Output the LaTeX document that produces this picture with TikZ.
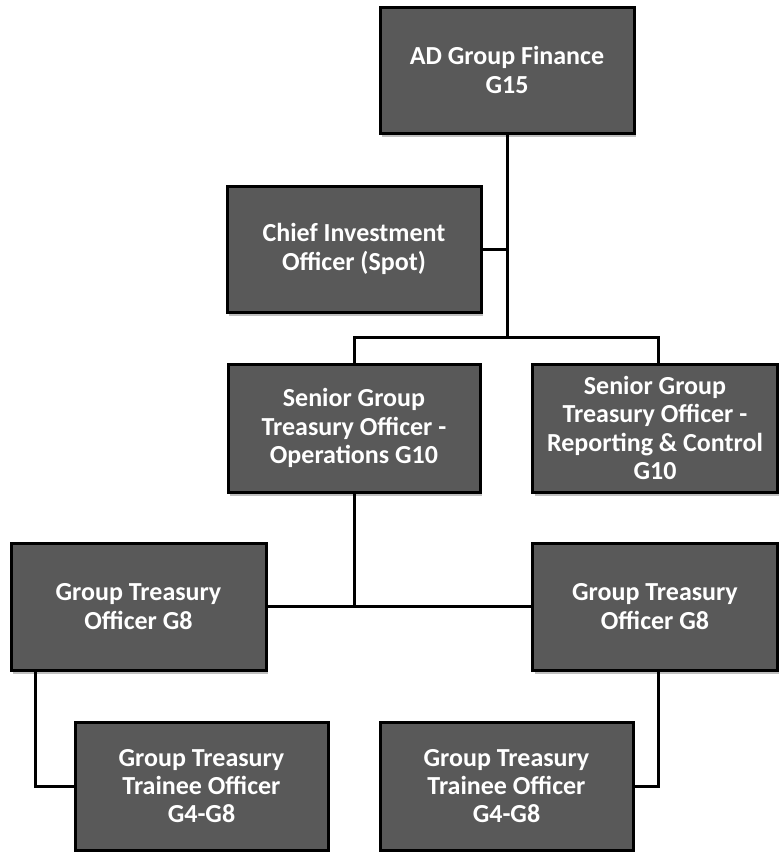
\documentclass[tikz,border=0pt]{standalone}
\usepackage{fontspec}
\setmainfont{Carlito}
\usetikzlibrary{shadows}
\definecolor{boxgray}{HTML}{595959}
\begin{document}
\begin{tikzpicture}[x=1pt,y=-1pt,
  orgbox/.style={draw=black, line width=3pt, fill=boxgray, text=white,
    font=\bfseries\fontsize{26}{28.3}\selectfont, align=center, inner sep=0pt,
    drop shadow={shadow xshift=2pt, shadow yshift=-4pt, opacity=0.25, fill=black}},
  conn/.style={line width=3pt, draw=black}]
\useasboundingbox (0,0) rectangle (779,852);
\node[orgbox, minimum width=254pt, minimum height=126pt] (ad) at (507,70) {AD Group Finance\\G15};
\node[orgbox, minimum width=254pt, minimum height=126pt] (cio) at (354,249) {Chief Investment\\Officer (Spot)};
\node[orgbox, minimum width=252pt, minimum height=128pt] (ops) at (354,428) {Senior Group\\Treasury Officer -\\Operations G10};
\node[orgbox, minimum width=245pt, minimum height=128pt] (rep) at (655,428) {Senior Group\\Treasury Officer -\\Reporting \& Control\\G10};
\node[orgbox, minimum width=255pt, minimum height=127pt] (gl) at (138.5,606.5) {Group Treasury\\Officer G8};
\node[orgbox, minimum width=245pt, minimum height=127pt] (gr) at (655,606.5) {Group Treasury\\Officer G8};
\node[orgbox, minimum width=253pt, minimum height=128pt] (tl) at (201.5,786) {Group Treasury\\Trainee Officer\\G4-G8};
\node[orgbox, minimum width=253pt, minimum height=128pt] (tr) at (506.5,786) {Group Treasury\\Trainee Officer\\G4-G8};
\coordinate (j1) at (507,337);
\coordinate (j2) at (354,607);
\draw[conn] (ad.south) -- (j1);
\draw[conn] (cio.east) -- (cio.east -| ad.south);
\draw[conn] (ops.north) |- (j1) -| ([xshift=3pt]rep.north);
\draw[conn] (ops.south) -- (j2);
\draw[conn] (gl.east) -- (gr.west);
\draw[conn] ([xshift=26pt]gl.south west) |- (tl.west);
\draw[conn] ([xshift=127pt]gr.south west) |- (tr.east);
\end{tikzpicture}
\end{document}
